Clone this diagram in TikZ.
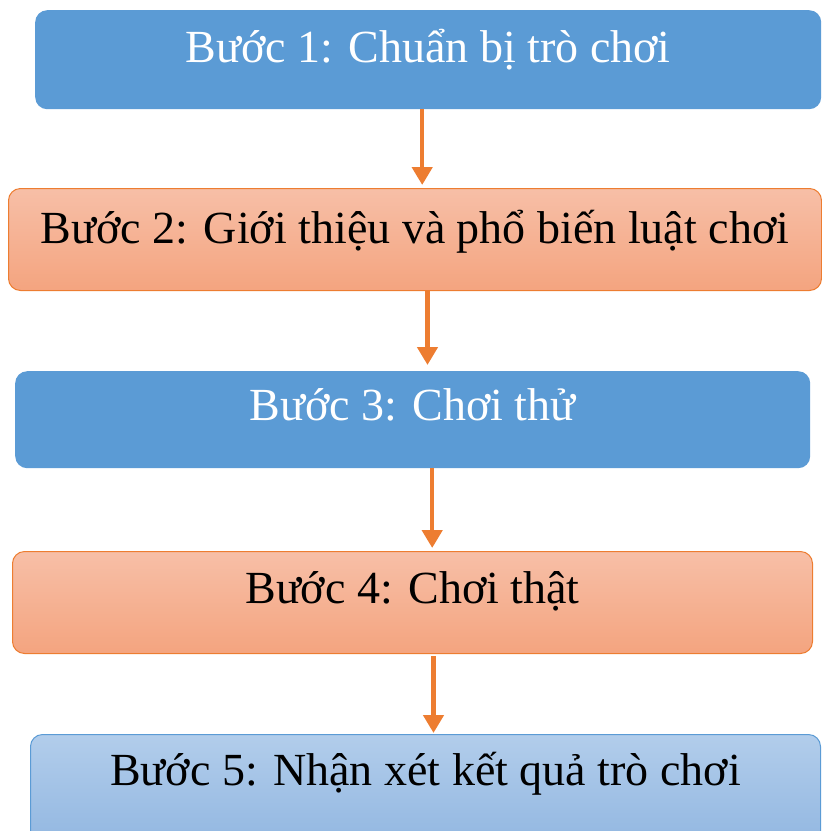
\documentclass[tikz,border=0pt]{standalone}
\usepackage{fontspec}
\setmainfont{Liberation Serif}
\usetikzlibrary{arrows.meta}
\definecolor{obl}{HTML}{5B9BD5}
\definecolor{oor}{HTML}{ED7D31}
\definecolor{ortop}{HTML}{F7BFA7}
\definecolor{orbot}{HTML}{F4A47F}
\definecolor{lbtop}{HTML}{B2CDEB}
\definecolor{lbbot}{HTML}{92B7E1}
\tikzset{
  box/.style={rectangle, rounded corners=12pt, inner xsep=0pt, inner ysep=0pt,
    font=\fontsize{46}{52}\selectfont, anchor=north west},
  bluebox/.style={box, fill=obl, text=white},
  orbox/.style={box, draw=oor, line width=1pt, top color=ortop, bottom color=orbot, text=black},
  lbbox/.style={box, draw=obl, line width=1pt, top color=lbtop, bottom color=lbbot, text=black},
  arr/.style={draw=oor, line width=4.5pt, -{Triangle[length=18pt,width=20pt]}}
}
\begin{document}
\begin{tikzpicture}[x=1pt,y=-1pt]
\useasboundingbox (0,0) rectangle (822,831);
\node[bluebox, minimum width=786pt, text height=52pt, text depth=47pt] (b1) at (35,10) {Bước 1: Chuẩn bị trò chơi};
\node[orbox, minimum width=813pt, text height=55pt, text depth=47pt] (b2) at (8,188) {Bước 2: Giới thiệu và phổ biến luật chơi};
\node[bluebox, minimum width=795pt, text height=49pt, text depth=48pt] (b3) at (15,371) {Bước 3: Chơi thử};
\node[orbox, minimum width=800pt, text height=52pt, text depth=50pt] (b4) at (12,551) {Bước 4: Chơi thật};
\node[lbbox, minimum width=790pt, text height=51pt, text depth=60pt] (b5) at (30,734) {Bước 5: Nhận xét kết quả trò chơi};
\draw[arr, shorten >=3pt] ([xshift=-6pt]b1.south) -- ([xshift=-6pt]b1.south |- b2.north);
\draw[arr, shorten >=6pt] ([xshift=12.5pt]b2.south) -- ([xshift=12.5pt]b2.south |- b3.north);
\draw[arr, shorten >=3pt] ([xshift=19.5pt]b3.south) -- ([xshift=19.5pt]b3.south |- b4.north);
\draw[arr, shorten >=1pt, shorten <=2pt] ([xshift=21pt]b4.south) -- ([xshift=21pt]b4.south |- b5.north);
\end{tikzpicture}
\end{document}
